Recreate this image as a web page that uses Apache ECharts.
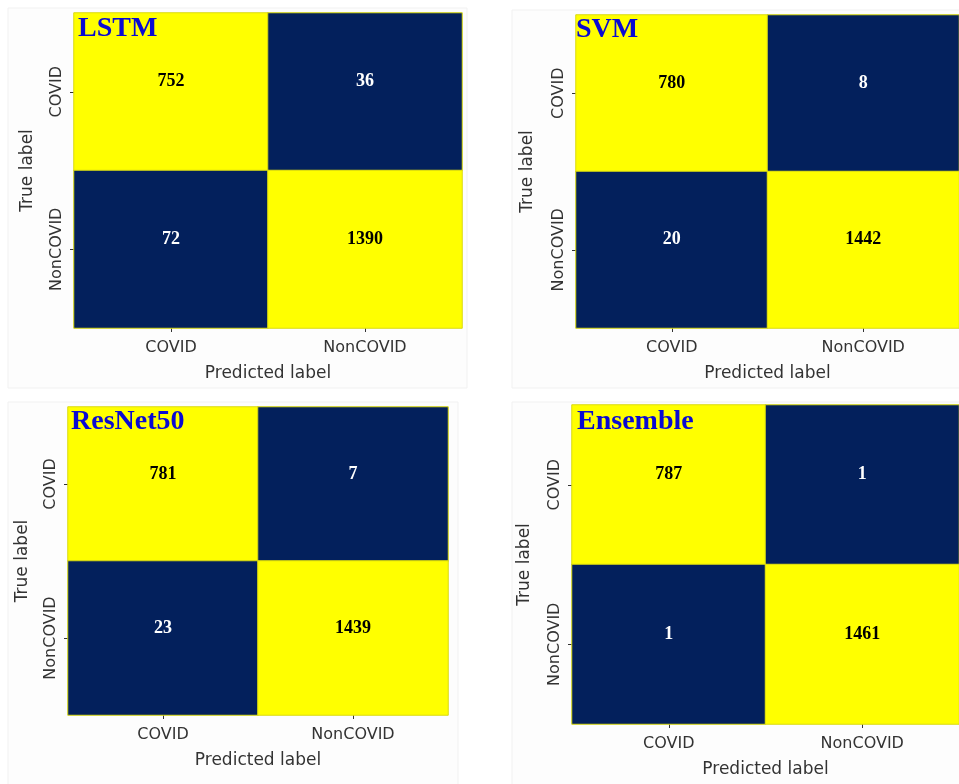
<!DOCTYPE html>
<html>
<head>
    <meta charset="utf-8">
    <title></title>
    <script src="https://cdn.jsdelivr.net/npm/echarts@6/dist/echarts.min.js"></script>
</head>
<body style="margin:0;background:#fff">
    <div id="main" style="width: 959px;height:784px;"></div>
    <script type="text/javascript">
var myChart = echarts.init(document.getElementById('main'));

// 混淆矩阵数据 (行 = True label, 列 = Predicted label)
var classes = ['COVID', 'NonCOVID'];
var models = ['LSTM', 'SVM', 'ResNet50', 'Ensemble'];
var lstm = [[752, 36], [72, 1390]];
var svm = [[780, 8], [20, 1442]];
var resnet = [[781, 7], [23, 1439]];
var ensemble = [[787, 1], [1, 1461]];
var matrices = [lstm, svm, resnet, ensemble];

var navy = '#03205c';
var yellow = '#ffff00';

// 每个子图的位置
var grids = [
  { left: 74, top: 13, width: 388, height: 315 },
  { left: 576, top: 15, width: 384, height: 313 },
  { left: 68, top: 407, width: 380, height: 308 },
  { left: 572, top: 405, width: 392, height: 319 }
];
var yNameGap = [38, 40, 37, 39];
var titlePos = [[78, 15], [576, 16], [71, 408], [577, 408]];
var panels = [[8, 8, 459, 380], [512, 10, 450, 378], [8, 402, 450, 384], [512, 402, 450, 384]];

var tickColor = '#333';
var xAxes = [], yAxes = [], series = [], titles = [], graphics = [];

for (var i = 0; i < 4; i++) {
  var data = [];
  for (var r = 0; r < 2; r++) {
    for (var c = 0; c < 2; c++) {
      var v = matrices[i][r][c];
      data.push({
        value: [c, r, v],
        label: { color: v > 400 ? '#000' : '#fff' }
      });
    }
  }
  xAxes.push({
    type: 'category',
    gridIndex: i,
    data: classes,
    name: 'Predicted label',
    nameLocation: 'middle',
    nameGap: 37,
    nameTextStyle: { fontFamily: 'DejaVu Sans', fontSize: 17, color: '#333' },
    axisLine: { show: false },
    axisTick: { show: true, alignWithLabel: true, length: 4, lineStyle: { color: tickColor } },
    axisLabel: { fontFamily: 'DejaVu Sans', fontSize: 16, color: '#333', margin: 12 },
    splitLine: { show: false },
    splitArea: { show: false }
  });
  yAxes.push({
    type: 'category',
    gridIndex: i,
    inverse: true,
    data: classes,
    name: 'True label',
    nameLocation: 'middle',
    nameGap: yNameGap[i],
    nameRotate: 90,
    nameTextStyle: { fontFamily: 'DejaVu Sans', fontSize: 17, color: '#333' },
    axisLine: { show: false },
    axisTick: { show: true, alignWithLabel: true, length: 4, lineStyle: { color: tickColor } },
    axisLabel: { fontFamily: 'DejaVu Sans', fontSize: 16, color: '#333', rotate: 90, margin: 9 },
    splitLine: { show: false },
    splitArea: { show: false }
  });
  series.push({
    type: 'heatmap',
    name: models[i],
    xAxisIndex: i,
    yAxisIndex: i,
    data: data,
    itemStyle: { borderColor: '#dada10', borderWidth: 1 },
    label: {
      show: true,
      offset: [0, -10],
      fontFamily: 'Liberation Serif',
      fontWeight: 'bold',
      fontSize: 18,
      formatter: function (p) { return p.value[2]; }
    },
    emphasis: { disabled: true }
  });
  titles.push({
    text: models[i],
    left: titlePos[i][0],
    top: titlePos[i][1],
    padding: 0,
    textStyle: { fontFamily: 'Liberation Serif', fontWeight: 'bold', fontSize: 28, color: '#0a0ad2' }
  });
  graphics.push({
    type: 'rect',
    z: -10,
    shape: { x: panels[i][0], y: panels[i][1], width: panels[i][2], height: panels[i][3] },
    style: { fill: '#fdfdfd', stroke: '#f1f1f1', lineWidth: 1 }
  });
}

var option = {
  backgroundColor: '#fff',
  animation: false,
  title: titles,
  grid: grids,
  xAxis: xAxes,
  yAxis: yAxes,
  visualMap: {
    type: 'piecewise',
    show: false,
    seriesIndex: [0, 1, 2, 3],
    dimension: 2,
    pieces: [
      { max: 400, color: navy },
      { min: 400, color: yellow }
    ]
  },
  graphic: graphics,
  series: series
};
myChart.setOption(option);
    </script>
</body>
</html>
